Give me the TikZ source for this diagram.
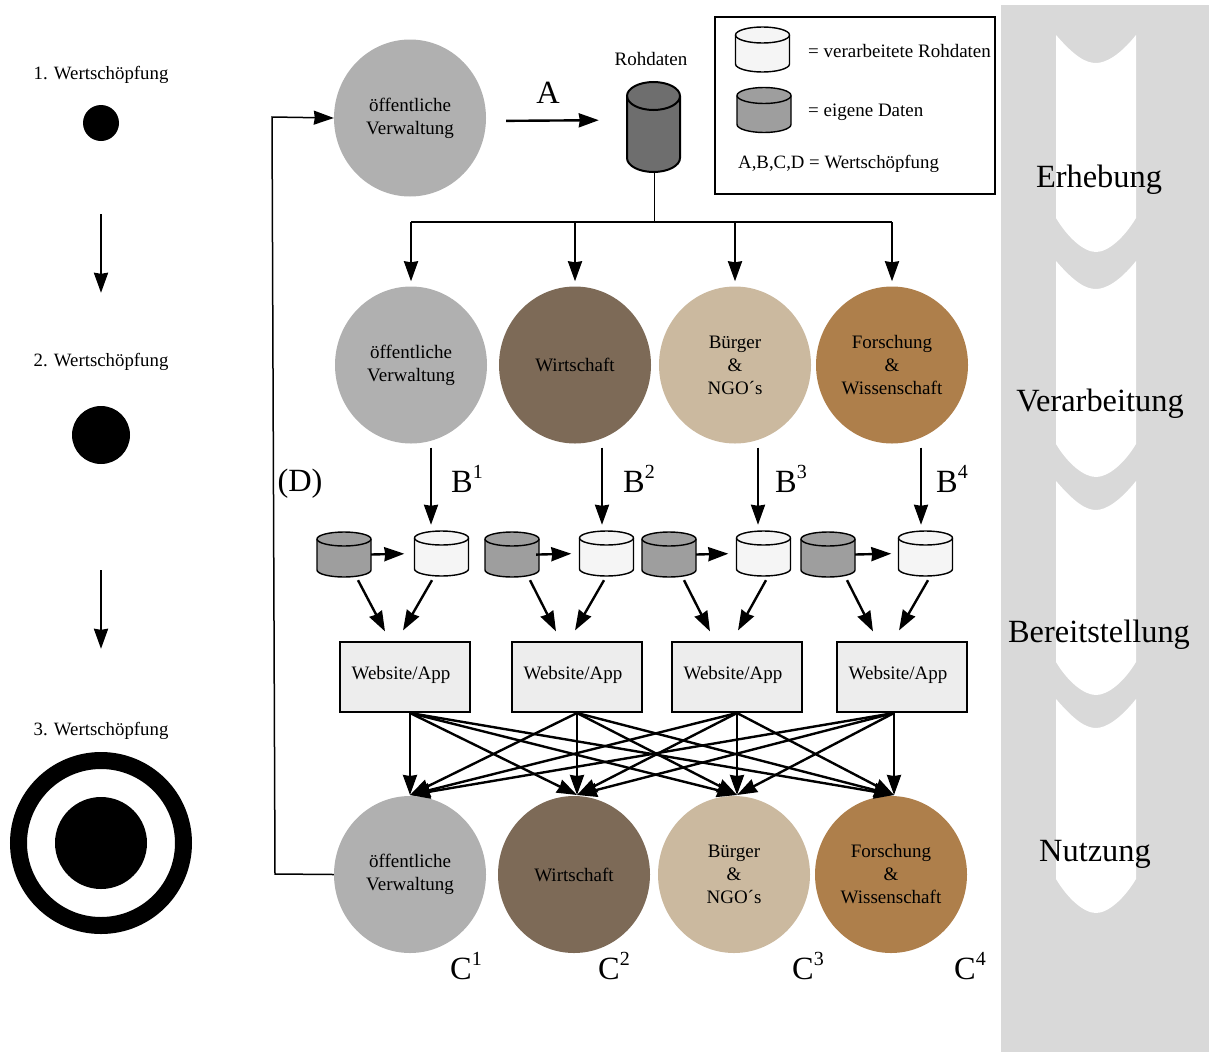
\documentclass[tikz,border=0pt]{standalone}
\usepackage{fontspec}
\setmainfont{Liberation Serif}
\usetikzlibrary{arrows.meta,shapes.geometric}

\definecolor{grau}{HTML}{B0B0B0}
\definecolor{braun}{HTML}{7D6A57}
\definecolor{beige}{HTML}{CBB99F}
\definecolor{ocker}{HTML}{AE7F4B}
\definecolor{band}{HTML}{D9D9D9}

\newcommand{\hoch}[1]{\raisebox{.42em}{\fontsize{20}{20}\selectfont #1}}
% style, name, x, y, half width, half height, cap
\newcommand{\zylinder}[7]{
	\node[minimum width={2*#5}, minimum height={2*#6}, inner sep=0pt] (#2) at (#3,#4) {};
	\draw[#1] ({#3-#5},{#4-#6+#7}) -- ({#3-#5},{#4+#6-#7})
		.. controls ({#3-#5},{#4+#6-.45*#7}) and ({#3-.55*#5},{#4+#6}) .. (#3,{#4+#6})
		.. controls ({#3+.55*#5},{#4+#6}) and ({#3+#5},{#4+#6-.45*#7}) .. ({#3+#5},{#4+#6-#7})
		-- ({#3+#5},{#4-#6+#7})
		.. controls ({#3+#5},{#4-#6+.45*#7}) and ({#3+.55*#5},{#4-#6}) .. (#3,{#4-#6})
		.. controls ({#3-.55*#5},{#4-#6}) and ({#3-#5},{#4-#6+.45*#7}) .. ({#3-#5},{#4-#6+#7})
		-- cycle;
	\draw[#1, fill=none] ({#3-#5},{#4-#6+#7})
		.. controls ({#3-#5},{#4-#6+1.55*#7}) and ({#3-.55*#5},{#4-#6+2*#7}) .. (#3,{#4-#6+2*#7})
		.. controls ({#3+.55*#5},{#4-#6+2*#7}) and ({#3+#5},{#4-#6+1.55*#7}) .. ({#3+#5},{#4-#6+#7});
}

\tikzset{
	klein/.style={font=\fontsize{18.8}{22}\selectfont},
	normal/.style={font=\fontsize{19}{23}\selectfont, align=center},
	gross/.style={font=\fontsize{32.4}{36}\selectfont},
	kreis/.style={ellipse, minimum width=152pt, minimum height=157pt, inner sep=0pt, normal},
	eigen/.style={draw, line width=1.4pt, fill=black!38},
	verarb/.style={draw, line width=1.4pt, fill=black!4},
	roh/.style={draw, line width=2pt, fill=black!57},
	webbox/.style={draw, line width=1.2pt, fill=black!7, minimum width=130pt, minimum height=70pt, inner sep=0pt, label={[normal, xshift=-4pt, yshift=2pt]center:Website/App}},
	pfeil/.style={line width=2.4pt, -{Stealth[length=20pt, width=14pt, inset=1pt]}}
}

\begin{document}
\begin{tikzpicture}[x=1pt, y=-1pt]
	\useasboundingbox (0,0) rectangle (1209,1052);

	% band on the right
	\fill[band] (1001,5) rectangle (1209,1052);
	\foreach \ya/\yb/\yc/\yd in {35/63/218/252, 261/289/444/477, 481/510/662/695, 699/728/879/913}
		\fill[white] (1056,\ya) .. controls (1075,{\ya+22}) and (1086,\yb) .. (1096,\yb) .. controls (1106,\yb) and (1120,{\ya+20}) .. (1136,\ya) -- (1136,\yc) .. controls (1124,{\yc+20}) and (1108,\yd) .. (1096,\yd) .. controls (1084,\yd) and (1068,{\yc+20}) .. (1056,\yc) -- cycle;
	\node[gross] (erhebung) at (1099,180) {Erhebung};
	\node[gross] (verarbeitung) at (1100,404) {Verarbeitung};
	\node[gross] (bereitstellung) at (1099,635) {Bereitstellung};
	\node[gross] (nutzung) at (1095,854) {Nutzung};

	% left column
	\node[klein] (wert1) at (101,75) {1. Wertschöpfung};
	\node[circle, fill=black, minimum size=36pt, inner sep=0pt] (punkt1) at (101,123) {};
	\node[klein] (wert2) at (101,362) {2. Wertschöpfung};
	\node[circle, fill=black, minimum size=58pt, inner sep=0pt] (punkt2) at (101,435) {};
	\node[klein] (wert3) at (101,731) {3. Wertschöpfung};
	\node[circle, draw, line width=17pt, minimum size=165pt, inner sep=0pt] (ring) at (101,843) {};
	\node[circle, fill=black, minimum size=92pt, inner sep=0pt] (punkt3) at (101,843) {};
	\draw[pfeil, shorten <=73pt, shorten >=57pt] (punkt1.south) -- (wert2.north);
	\draw[pfeil, shorten <=106pt, shorten >=70pt] (punkt2.south) -- (wert3.north);

	% legend
	\node[draw, line width=1.5pt, minimum width=280pt, minimum height=177pt, inner sep=0pt] (legende) at (855,105.5) {};
	\zylinder{verarb}{legverarb}{762.5}{49.5}{27}{22.5}{8}
	\zylinder{eigen}{legeigen}{764}{110}{27}{22.5}{8}
	\node[normal, anchor=west, inner sep=0pt] (txtverarb) at (808,51) {= verarbeitete Rohdaten};
	\node[normal, anchor=west, inner sep=0pt] (txteigen) at (808,112) {= eigene Daten};
	\node[klein, anchor=west, inner sep=0pt] (txtabcd) at (738,164) {A,B,C,D = Wertschöpfung};

	% raw data
	\node[kreis, fill=grau] (kreisa) at (410,118) {öffentliche\\Verwaltung};
	\node[normal] (txtroh) at (651,59) {Rohdaten};
	\zylinder{roh}{rohdaten}{653.5}{127}{26.5}{45}{14}
	\node[gross] (labela) at (548,93) {A};
	\draw[pfeil, shorten <=20pt, shorten >=28pt] ([shift={(0,3)}]kreisa.east) -- ([shift={(0,-7)}]rohdaten.west);

	% second row
	\node[kreis, fill=grau] (kreisb1) at (411,365) {öffentliche\\Verwaltung};
	\node[kreis, fill=braun] (kreisb2) at (575,365) {Wirtschaft};
	\node[kreis, fill=beige] (kreisb3) at (735,365) {Bürger\\\&\\NGO´s};
	\node[kreis, fill=ocker] (kreisb4) at (892,365) {Forschung\\\&\\Wissenschaft};
	\coordinate (tree) at (654.5,222);
	\draw[line width=1.5pt] (tree |- rohdaten.south) -- (tree);
	\draw[line width=2.2pt] (kreisb1.north |- tree) -- (kreisb4.north |- tree);
	\foreach \i in {1,...,4}
		\draw[pfeil, shorten >=5pt] (kreisb\i.north |- tree) -- (kreisb\i.north);

	% cylinders
	\foreach \i/\xa/\xb in {1/344/441.5, 2/512/606.5, 3/669/763.5, 4/828/925.5}{
		\zylinder{eigen}{eigen\i}{\xa}{554.5}{27}{22.5}{7}
		\zylinder{verarb}{verarb\i}{\xb}{553.5}{27}{22.5}{7}
	}

	\node[webbox] (web1) at (405,677) {};
	\node[webbox] (web2) at (577,677) {};
	\node[webbox] (web3) at (737,677) {};
	\node[webbox] (web4) at (902,677) {};

	\node[gross] (labeld) at (300,484) {(D)};
	\foreach \i/\x in {1/467,2/639,3/791,4/952}
		\node[gross] (labelb\i) at (\x,479) {B\hoch{\i}};

	\foreach \i/\sa/\sb in {1/20/-10.5,2/27/-4.5,3/23/-5.5,4/29/-4.5}
		\draw[pfeil] ([shift={(\sa,4)}]kreisb\i.south) -- ([shift={(\sb,-6)}]verarb\i.north);
	\foreach \i/\sa/\sb in {1/0/10,2/-3/8,3/0/8,4/0/7}
		\draw[pfeil, shorten <=\sa pt, shorten >=\sb pt] (eigen\i.east) -- (verarb\i.west);
	\foreach \i/\ga/\wa/\gb/\wb in {1/14/-9.5/-20/-2,2/18/-2.5/-21/-2,3/15/2.5/-27/1,4/19/2.5/-29/-3}{
		\draw[pfeil] ([shift={(\ga,3)}]eigen\i.south) -- ([shift={(\gb,-10)}]web\i.north);
		\draw[pfeil] ([shift={(\wa,4)}]verarb\i.south) -- ([shift={(\wb,-11)}]web\i.north);
	}

	% bottom row
	\node[kreis, fill=grau] (kreisc1) at (410,874.5) {öffentliche\\Verwaltung};
	\node[kreis, fill=braun] (kreisc2) at (574,874.5) {Wirtschaft};
	\node[kreis, fill=beige] (kreisc3) at (734,874.5) {Bürger\\\&\\NGO´s};
	\node[kreis, fill=ocker] (kreisc4) at (891,874.5) {Forschung\\\&\\Wissenschaft};
	\foreach \i/\x in {1/466,2/614,3/808,4/970}
		\node[gross] (labelc\i) at (\x,966) {C\hoch{\i}};

	\foreach \i/\x in {1/410,2/577,3/737,4/894}{
		\coordinate (aus\i) at (\x,713);
		\coordinate (ein\i) at (\x,795);
	}
	\foreach \s in {1,...,4}
		\foreach \t in {1,...,4}
			\draw[pfeil] (aus\s) -- (ein\t);

	% feedback
	\coordinate (rueck1) at (275,874);
	\coordinate (rueck2) at (272,117);
	\draw[line width=1.5pt, -{Stealth[length=20pt, width=14pt, inset=1pt]}] (kreisc1.west) -- (rueck1) -- (rueck2) -- (kreisa.west);
\end{tikzpicture}
\end{document}
